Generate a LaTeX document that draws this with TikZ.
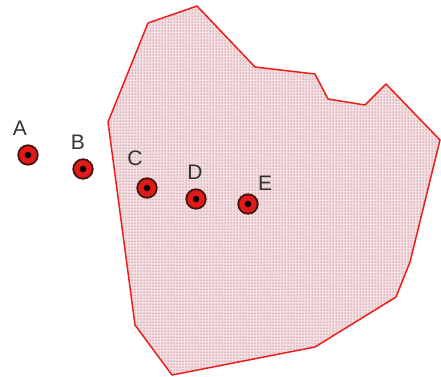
\documentclass[tikz,border=0pt]{standalone}
\usepackage{fontspec}
\setmainfont{Liberation Sans}
\usetikzlibrary{patterns}
\definecolor{edge}{RGB}{235,30,30}
\definecolor{bg}{RGB}{243,222,225}
\definecolor{dotc}{RGB}{150,60,75}
\definecolor{ptred}{RGB}{225,25,25}
\definecolor{ring}{RGB}{70,20,15}
\begin{document}
\begin{tikzpicture}[x=1pt,y=-1pt,
  region/.style={draw=edge,line width=1.5pt,line join=round},
  site/.style={circle,fill=ptred,draw=ring,line width=1.8pt,minimum size=19.5pt,inner sep=0pt},
  hole/.style={circle,fill=black,minimum size=6.5pt,inner sep=0pt},
  lab/.style={font=\fontsize{21}{21}\selectfont,text=black!80,inner sep=0pt}]
\useasboundingbox (0,0) rectangle (441,376);
\path[fill=bg] (148,23) -- (197,6) -- (255,67) -- (315,74) -- (328,99) -- (365,105) -- (386,84) -- (440,140) -- (410,262) -- (396,297) -- (315,347) -- (172,375) -- (135,325) -- (108,122) -- cycle;
\path[pattern=dots,pattern color=dotc] (148,23) -- (197,6) -- (255,67) -- (315,74) -- (328,99) -- (365,105) -- (386,84) -- (440,140) -- (410,262) -- (396,297) -- (315,347) -- (172,375) -- (135,325) -- (108,122) -- cycle;
\draw[region] (148,23) -- (197,6) -- (255,67) -- (315,74) -- (328,99) -- (365,105) -- (386,84) -- (440,140) -- (410,262) -- (396,297) -- (315,347) -- (172,375) -- (135,325) -- (108,122) -- cycle;
\foreach \n/\x/\y in {A/28/155,B/83/169,C/147/188,D/196/199,E/248/204}{
  \node[site] (\n) at (\x,\y) {};
  \node[hole] (\n h) at (\n) {};
}
\node[lab] (lA) at (20,128) {A};
\node[lab] (lB) at (78,142) {B};
\node[lab] (lC) at (135,158) {C};
\node[lab] (lD) at (195,172) {D};
\node[lab] (lE) at (265,183) {E};
\end{tikzpicture}
\end{document}
